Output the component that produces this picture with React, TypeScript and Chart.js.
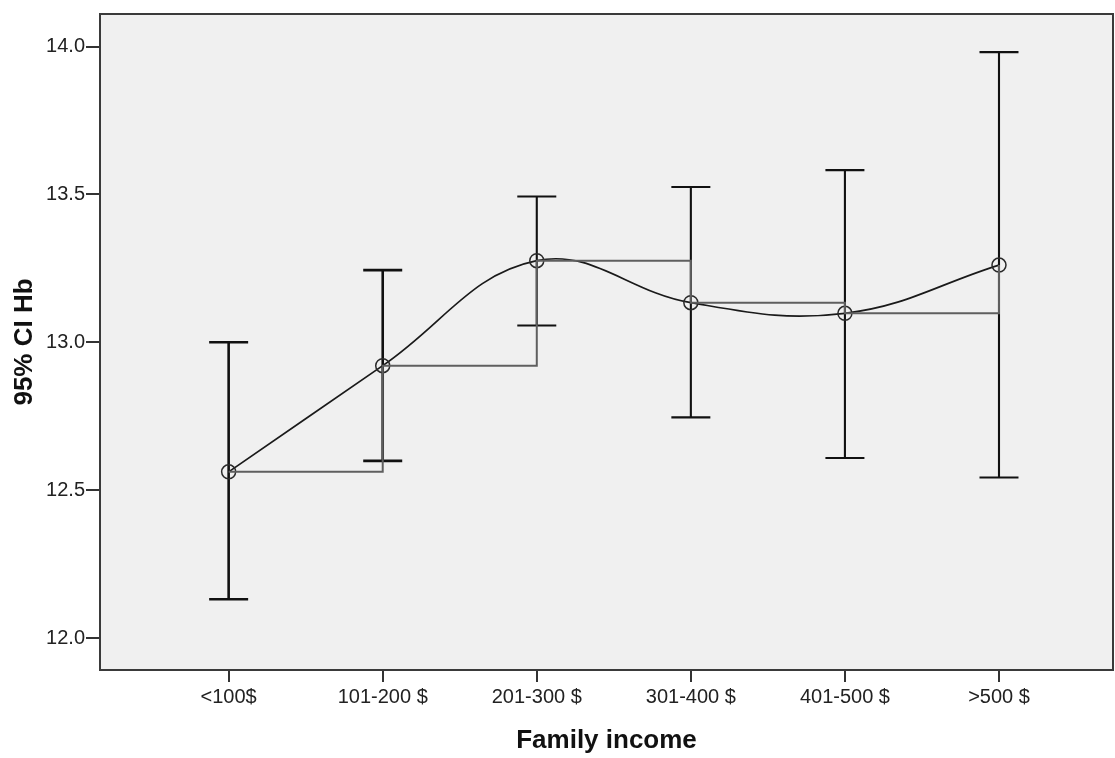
import React, { useEffect, useRef } from "react";
import { Chart, registerables } from "chart.js";

Chart.register(...registerables);

const categories = ["<100$", "101-200 $", "201-300 $", "301-400 $", "401-500 $", ">500 $"];
const xPositions = [1, 2, 3, 4, 5, 6];
const means = [12.562, 12.921, 13.276, 13.134, 13.098, 13.261];
const upper = [13.0, 13.244, 13.493, 13.525, 13.582, 13.981];
const lower = [12.131, 12.599, 13.057, 12.746, 12.609, 12.543];
const yTicks = [12.0, 12.5, 13.0, 13.5, 14.0];

const FONT = "'Liberation Sans', Arial, sans-serif";

export default function App() {
  const ref = useRef<HTMLCanvasElement | null>(null);

  useEffect(() => {
    document.body.style.margin = "0";
    const canvas = ref.current;
    if (!canvas) return;

    const framePlugin = {
      id: "frame",
      beforeDatasetsDraw(chart: any) {
        const { ctx, chartArea: a } = chart;
        ctx.save();
        ctx.fillStyle = "#F0F0F0";
        ctx.fillRect(a.left, a.top, a.right - a.left, a.bottom - a.top);
        const xs = chart.scales.x;
        const ys = chart.scales.y;
        ctx.strokeStyle = "#111";
        ctx.lineCap = "butt";
        for (let i = 0; i < xPositions.length; i++) {
          const x = xs.getPixelForValue(xPositions[i]);
          const yU = ys.getPixelForValue(upper[i]);
          const yL = ys.getPixelForValue(lower[i]);
          const hw = 19.5;
          ctx.lineWidth = i < 2 ? 2.6 : 2.1;
          ctx.beginPath();
          ctx.moveTo(x, yU);
          ctx.lineTo(x, yL);
          ctx.moveTo(x - hw, yU);
          ctx.lineTo(x + hw, yU);
          ctx.moveTo(x - hw, yL);
          ctx.lineTo(x + hw, yL);
          ctx.stroke();
        }
        ctx.restore();
      },
      afterDraw(chart: any) {
        const { ctx, chartArea: a } = chart;
        ctx.save();
        ctx.strokeStyle = "#3a3a3a";
        ctx.lineWidth = 2;
        ctx.strokeRect(a.left, a.top, a.right - a.left, a.bottom - a.top);
        ctx.restore();
      },
    };

    const chart = new Chart(canvas, {
      type: "line",
      data: {
        datasets: [
          {
            label: "step",
            data: xPositions.map((x, i) => ({ x, y: means[i] })),
            stepped: true,
            borderColor: "#5f5f5f",
            borderWidth: 2,
            pointRadius: 0,
            fill: false,
          },
          {
            label: "curve",
            data: xPositions.map((x, i) => ({ x, y: means[i] })),
            tension: 0.4,
            borderColor: "#1a1a1a",
            borderWidth: 1.7,
            pointRadius: 7,
            pointStyle: "circle",
            pointBackgroundColor: "rgba(0,0,0,0)",
            pointBorderColor: "#2a2a2a",
            pointBorderWidth: 1.5,
            fill: false,
          },
        ],
      },
      options: {
        animation: false,
        responsive: false,
        maintainAspectRatio: false,
        layout: { autoPadding: false, padding: { top: 14, right: 2, left: 0, bottom: 0 } },
        plugins: {
          legend: { display: false },
          tooltip: { enabled: false },
        },
        scales: {
          x: {
            type: "linear",
            min: 0.165,
            max: 6.74,
            afterBuildTicks: (scale: any) => {
              scale.ticks = xPositions.map((v) => ({ value: v }));
            },
            afterFit: (scale: any) => {
              scale.height = 88;
              scale.paddingLeft = 0;
              scale.paddingRight = 0;
            },
            ticks: {
              callback: (v: any) => categories[Number(v) - 1] ?? "",
              font: { family: FONT, size: 20 },
              color: "#222",
              padding: 3,
              maxRotation: 0,
              autoSkip: false,
            },
            grid: {
              display: true,
              drawOnChartArea: false,
              drawTicks: true,
              tickLength: 12,
              color: "#333",
              lineWidth: 2,
            },
            border: { display: false },
            title: {
              display: true,
              text: "Family income",
              font: { family: FONT, size: 26, weight: "bold" },
              color: "#111",
              padding: { top: 0, bottom: 2 },
            },
          },
          y: {
            type: "linear",
            min: 11.892,
            max: 14.11,
            afterBuildTicks: (scale: any) => {
              scale.ticks = yTicks.map((v) => ({ value: v }));
            },
            afterFit: (scale: any) => {
              scale.width = 100;
              scale.paddingTop = 0;
              scale.paddingBottom = 0;
            },
            ticks: {
              callback: (v: any) => Number(v).toFixed(1),
              font: { family: FONT, size: 20 },
              color: "#222",
              padding: 1,
            },
            grid: {
              display: true,
              drawOnChartArea: false,
              drawTicks: true,
              tickLength: 14,
              color: "#333",
              lineWidth: 2,
            },
            border: { display: false },
            title: {
              display: true,
              text: "95% CI Hb",
              font: { family: FONT, size: 26, weight: "bold" },
              color: "#111",
              padding: { top: 9, bottom: 0 },
            },
          },
        },
      },
      plugins: [framePlugin],
    });

    return () => chart.destroy();
  }, []);

  return <canvas ref={ref} width={1115} height={758} style={{ display: "block" }} />;
}
